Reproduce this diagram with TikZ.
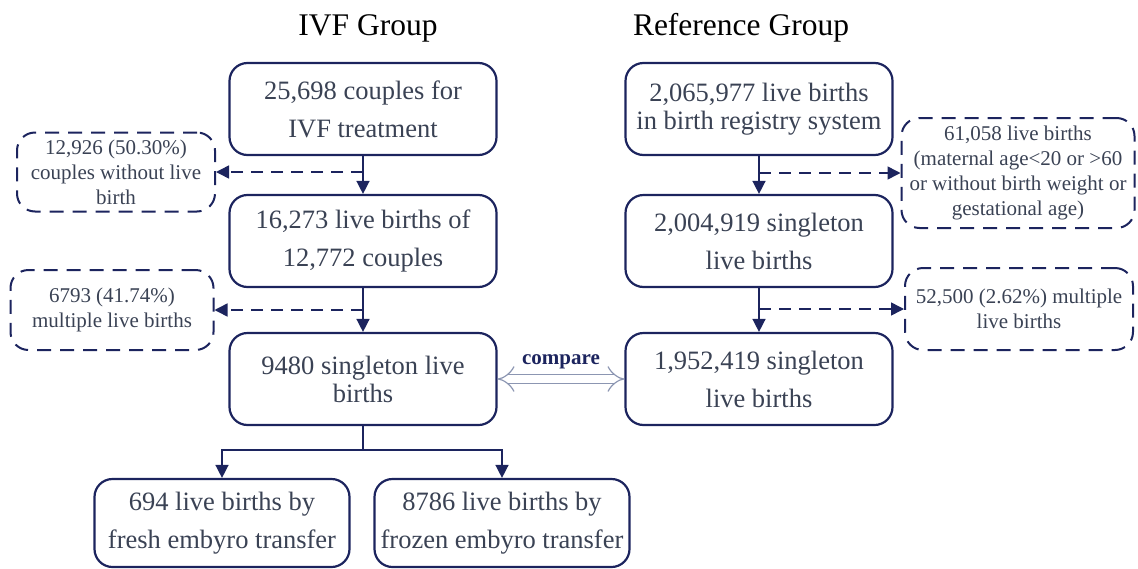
\documentclass[tikz,border=0pt]{standalone}
\usepackage{fontspec}
\setmainfont{Liberation Serif}
\usetikzlibrary{arrows.meta,positioning}
\definecolor{NavyLine}{RGB}{28,36,94}
\definecolor{SlateText}{RGB}{58,66,84}
\definecolor{CompareGray}{RGB}{140,150,178}
\tikzset{
  stage/.style={draw=NavyLine,rounded corners=18pt,line width=2.2pt,
    text=SlateText,align=center,minimum width=267pt,minimum height=92pt,
    font=\fontsize{26.5}{38}\selectfont},
  tight/.style={font=\fontsize{26.5}{28}\selectfont},
  excluded/.style={draw=NavyLine,dash pattern=on 14pt off 9pt,
    rounded corners=18pt,line width=2pt,text=SlateText,align=center,
    inner sep=2pt,font=\fontsize{21}{25}\selectfont},
  grouptitle/.style={font=\fontsize{31.5}{36}\selectfont,text=black},
  arrow/.style={-{Triangle[length=13pt,width=13pt]},line width=1.5pt,NavyLine},
  dasharrow/.style={arrow,dash pattern=on 12pt off 8pt},
  comparearrow/.style={{Implies}-{Implies},draw=CompareGray,double=white,
    double distance=8pt,line width=1.2pt}
}

\begin{document}
\begin{tikzpicture}[x=1pt,y=-1pt]

\useasboundingbox (0,0) rectangle (1138,568);

% group titles
\node[grouptitle] (ivftitle) at (368,28) {IVF Group};
\node[grouptitle] (reftitle) at (741,28) {Reference Group};

% IVF group
\node[stage] (couples) at (363,109) {25,698 couples for\\IVF treatment};
\node[stage] (livebirths) at (363,241) {16,273 live births of\\12,772 couples};
\node[stage,tight] (singleton) at (363,379) {9480 singleton live\\births};
\node[stage,minimum width=255pt,minimum height=88pt] (fresh) at (222,523)
  {694 live births by\\fresh embyro transfer};
\node[stage,minimum width=255pt,minimum height=88pt] (frozen) at (502,523)
  {8786 live births by\\frozen embyro transfer};

\node[excluded,minimum width=198pt,minimum height=79pt] (nolive) at (116,172)
  {12,926 (50.30\%)\\couples without live\\birth};
\node[excluded,minimum width=203pt,minimum height=80pt] (multiple) at (112,310)
  {6793 (41.74\%)\\multiple live births};

% reference group
\node[stage,tight] (registry) at (759,109) {2,065,977 live births\\in birth registry system};
\node[stage] (refsingle) at (759,241) {2,004,919 singleton\\live births};
\node[stage] (refcompare) at (759,379) {1,952,419 singleton\\live births};

\node[excluded,minimum width=233pt,minimum height=110pt] (refexcl) at (1018,173)
  {61,058 live births\\(maternal age<20 or >60\\or without birth weight or\\gestational age)};
\node[excluded,minimum width=228pt,minimum height=82pt] (refmulti) at (1019,309)
  {52,500 (2.62\%) multiple\\live births};

% connectors
\coordinate (cutone) at (363,172);
\coordinate (cuttwo) at (363,310);
\coordinate (cutthree) at (759,173);
\coordinate (cutfour) at (759,309);
\coordinate (split) at (363,450);

\draw[arrow] (couples) -- (livebirths);
\draw[arrow] (livebirths) -- (singleton);
\draw[dasharrow] (cutone) -- (nolive);
\draw[dasharrow] (cuttwo) -- (multiple);

\draw[arrow] (registry) -- (refsingle);
\draw[arrow] (refsingle) -- (refcompare);
\draw[dasharrow] (cutthree) -- (refexcl);
\draw[dasharrow] (cutfour) -- (refmulti);

\draw[line width=1.5pt,NavyLine] (singleton) -- (split);
\draw[arrow] (split) -| (fresh);
\draw[arrow] (split) -| (frozen);

\draw[comparearrow] (singleton) -- (refcompare)
  node[midway,above=6pt,font=\bfseries\fontsize{21}{24}\selectfont,text=NavyLine]
  {compare};

\end{tikzpicture}
\end{document}
